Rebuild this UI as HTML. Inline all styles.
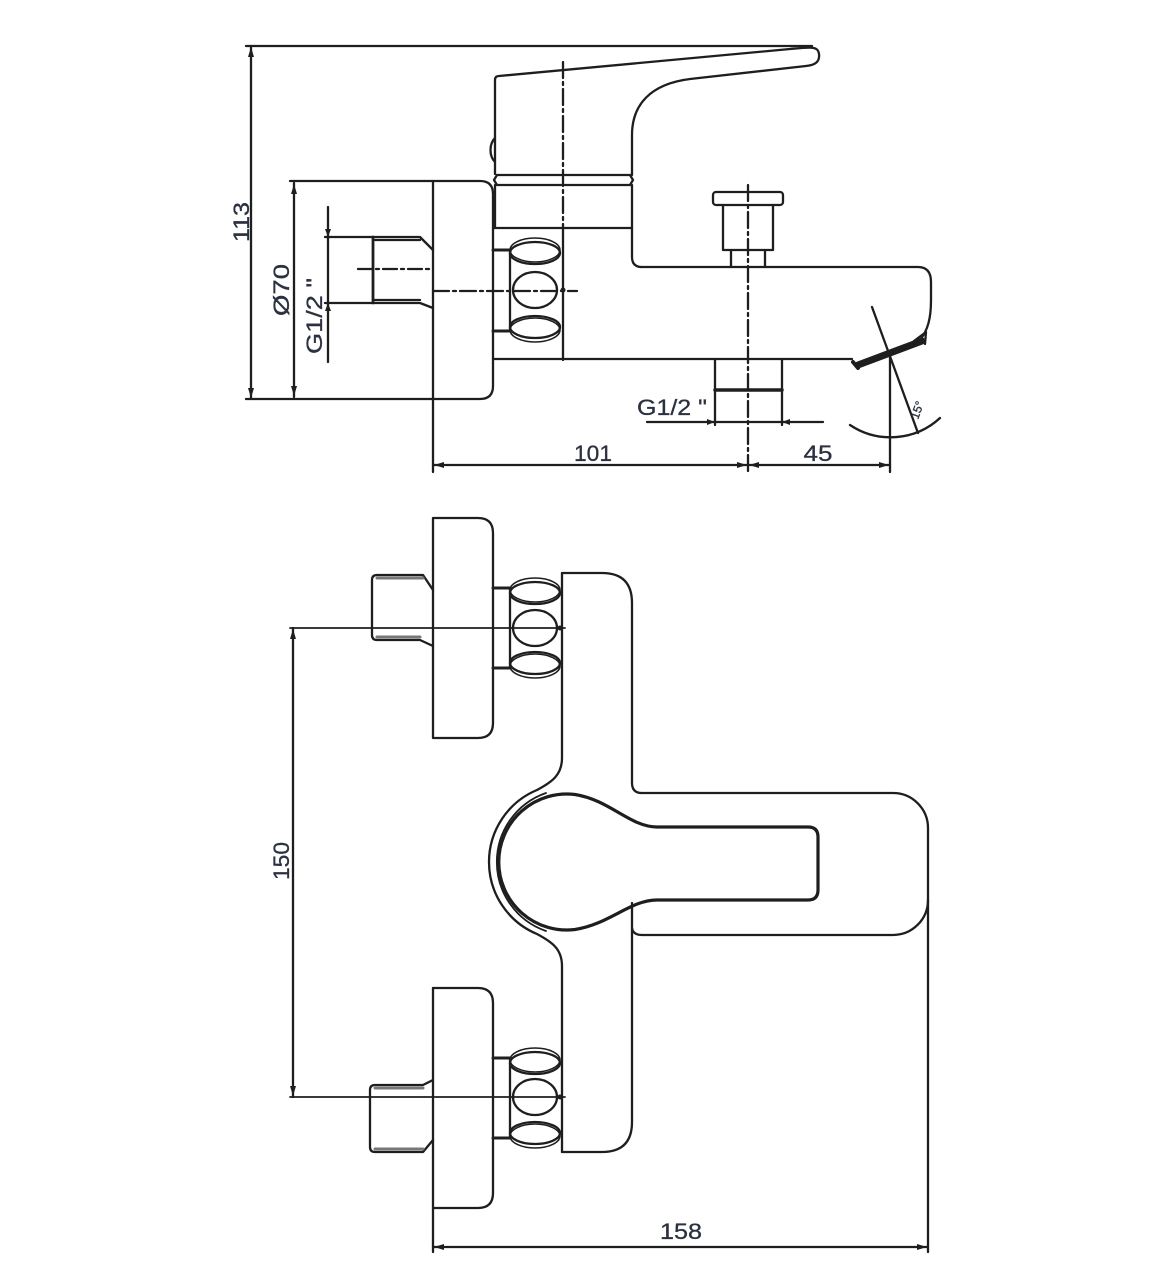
<!DOCTYPE html>
<html><head><meta charset="utf-8"><style>
html,body{margin:0;padding:0;background:#fff;}
svg{display:block;}
text{font-family:"Liberation Sans",Arial,sans-serif;fill:#2b3140;stroke:#2b3140;stroke-width:0.3;}
</style></head><body>
<svg width="1175" height="1280" viewBox="0 0 1175 1280" xmlns="http://www.w3.org/2000/svg">
<g fill="none" stroke="#1e1e1e" stroke-width="2.3" stroke-linecap="round" stroke-linejoin="round">
<!-- ============ TOP VIEW ============ -->
<line x1="246" y1="46" x2="812" y2="46"/>
<line x1="251" y1="46" x2="251" y2="399"/>
<path d="M290 181 H480 Q493 181 493 194 V386 Q493 399 480 399 H246"/>
<line x1="433" y1="181" x2="433" y2="472"/>
<line x1="294" y1="183" x2="294" y2="397"/>
<line x1="328" y1="207" x2="328" y2="362"/>
<!-- stub -->
<path d="M325 237 H420 L433 250"/>
<line x1="373" y1="240" x2="420" y2="240"/>
<path d="M325 303 H420 L433 308"/>
<line x1="373" y1="300" x2="420" y2="300"/>
<line x1="373" y1="237" x2="373" y2="303" stroke-width="2.8"/>
<line x1="358" y1="269" x2="433" y2="269" stroke-dasharray="14 4 3 4"/>
<line x1="433" y1="291" x2="577" y2="291" stroke-dasharray="16 4 3 4"/>
<!-- handle lever -->
<path d="M495 174 V80 Q495 76 499 76 L790 49 C812 47 818 46 819 54 C820 62 815 65 806 66 L690 79 C650 84 632 105 632 135 V175"/>
<path d="M495 138 C489 144 489 156 495 162"/>
<!-- ring -->
<path d="M497 175 H630 M497 185 H630 M497 175 L494 180 L497 185 M630 175 L633 180 L630 185"/>
<line x1="495" y1="185" x2="495" y2="228"/>
<path d="M632 185 V257 Q632 267 642 267 H918 Q931 267 931 282 V300 C931 318 928 330 920 340"/>
<line x1="493" y1="228" x2="632" y2="228"/>
<line x1="563" y1="62" x2="563" y2="228" stroke-dasharray="16 4 3 4"/>
<line x1="563" y1="228" x2="563" y2="360"/>
<!-- connector -->
<line x1="493" y1="250" x2="510" y2="250" stroke-width="3"/>
<line x1="493" y1="331" x2="510" y2="331" stroke-width="3"/>
<line x1="510" y1="250" x2="510" y2="331"/>
<ellipse cx="535" cy="253" rx="25" ry="11"/>
<ellipse cx="535" cy="250" rx="25" ry="12" stroke-width="1.5"/>
<ellipse cx="535" cy="290" rx="22" ry="18"/>
<ellipse cx="535" cy="327" rx="25" ry="11"/>
<ellipse cx="535" cy="330" rx="25" ry="12" stroke-width="1.5"/>
<line x1="493" y1="359" x2="852" y2="359"/>
<!-- diverter knob -->
<rect x="713" y="192" width="70" height="13" rx="3"/>
<path d="M723 205 V250 H773 V205"/>
<path d="M731 250 V267 M765 250 V267"/>
<line x1="748" y1="185" x2="748" y2="472" stroke-dasharray="16 4 3 4"/>
<!-- outlet -->
<path d="M715 359 V425 M782 359 V425"/>
<line x1="715" y1="390" x2="782" y2="390" stroke-width="3.5"/>
<line x1="647" y1="422" x2="823" y2="422"/>
<!-- aerator -->
<line x1="858" y1="365" x2="922" y2="341" stroke-width="7"/>
<line x1="853" y1="362" x2="858" y2="368" stroke-width="4"/>
<path d="M914 341 L926 332 L925 344"/>
<!-- angle -->
<line x1="872" y1="307" x2="918" y2="433"/>
<line x1="890" y1="355" x2="890" y2="472"/>
<path d="M850 425 A73 73 0 0 0 940 418"/>
<line x1="433" y1="465" x2="890" y2="465"/>

<!-- ============ FRONT VIEW ============ -->
<path d="M433 518 H478 Q493 518 493 533 V723 Q493 738 478 738 H433 Z"/>
<path d="M433 590 L423 575 H377 Q372 575 372 580 V635 Q372 640 377 640 H420 L433 646"/>
<line x1="377" y1="578" x2="423" y2="578" stroke="#777" stroke-width="3"/>
<line x1="377" y1="637" x2="420" y2="637" stroke="#777" stroke-width="3"/>
<line x1="290" y1="628" x2="565" y2="628" stroke-width="1.8"/>
<line x1="493" y1="588" x2="510" y2="588" stroke-width="3"/>
<line x1="493" y1="668" x2="510" y2="668" stroke-width="3"/>
<line x1="510" y1="588" x2="510" y2="668"/>
<ellipse cx="535" cy="593" rx="25" ry="11"/>
<ellipse cx="535" cy="590" rx="25" ry="12" stroke-width="1.5"/>
<ellipse cx="535" cy="628" rx="22" ry="18"/>
<ellipse cx="535" cy="663" rx="25" ry="11"/>
<ellipse cx="535" cy="666" rx="25" ry="12" stroke-width="1.5"/>
<!-- body -->
<path d="M562 573 V758 C562 775 552 782 537 790 A78 78 0 0 0 537 934 C552 942 562 949 562 966 V1152"/>
<path d="M546 793 A73 73 0 0 0 546 931" stroke-width="1.8"/>
<path d="M562 573 H602 Q632 573 632 603 V783 Q632 793 642 793 H893 A35 35 0 0 1 928 828 V1252"/>
<path d="M928 900 A35 35 0 0 1 893 935 H642 Q633 935 632 928"/>
<path d="M632 903 V1122 Q632 1152 602 1152 H562"/>
<!-- lever -->
<path d="M657 827 H808 Q818 827 818 837 V890 Q818 900 808 900 H657 C630 900 610 924 575 929.5 A68 68 0 1 1 575 794.5 C610 800 630 827 657 827 Z" stroke-width="3.2"/>
<!-- lower flange -->
<path d="M433 988 H478 Q493 988 493 1003 V1193 Q493 1208 478 1208 H433"/>
<line x1="433" y1="988" x2="433" y2="1252"/>
<path d="M433 1080 L423 1085 H375 Q370 1085 370 1090 V1147 Q370 1152 375 1152 H423 L433 1140"/>
<line x1="375" y1="1088" x2="423" y2="1088" stroke="#777" stroke-width="3"/>
<line x1="375" y1="1149" x2="423" y2="1149" stroke="#777" stroke-width="3"/>
<line x1="290" y1="1097" x2="565" y2="1097" stroke-width="1.8"/>
<line x1="493" y1="1058" x2="510" y2="1058" stroke-width="3"/>
<line x1="493" y1="1138" x2="510" y2="1138" stroke-width="3"/>
<line x1="510" y1="1058" x2="510" y2="1138"/>
<ellipse cx="535" cy="1063" rx="25" ry="11"/>
<ellipse cx="535" cy="1060" rx="25" ry="12" stroke-width="1.5"/>
<ellipse cx="535" cy="1097" rx="22" ry="18"/>
<ellipse cx="535" cy="1133" rx="25" ry="11"/>
<ellipse cx="535" cy="1136" rx="25" ry="12" stroke-width="1.5"/>
<line x1="293" y1="628" x2="293" y2="1097"/>
<line x1="433" y1="1247" x2="928" y2="1247"/>
</g>
<g fill="#1e1e1e" stroke="none">
<polygon points="251,47 248,57 254,57"/>
<polygon points="251,398 248,388 254,388"/>
<polygon points="294,184 291,194 297,194"/>
<polygon points="294,396 291,386 297,386"/>
<polygon points="328,237 325,229 331,229"/>
<polygon points="328,303 325,311 331,311"/>
<polygon points="434,465 444,462 444,468"/>
<polygon points="747,465 737,462 737,468"/>
<polygon points="749,465 759,462 759,468"/>
<polygon points="889,465 879,462 879,468"/>
<polygon points="715,422 707,419 707,425"/>
<polygon points="782,422 790,419 790,425"/>
<polygon points="293,629 290,639 296,639"/>
<polygon points="293,1096 290,1086 296,1086"/>
<polygon points="434,1247 444,1244 444,1250"/>
<polygon points="927,1247 917,1244 917,1250"/>
<circle cx="563" cy="290" r="2.5"/>
<circle cx="560" cy="628" r="2.5"/>
<circle cx="560" cy="1097" r="2.5"/>
</g>
<g font-size="22">
<text transform="translate(241,222) rotate(-90)" text-anchor="middle" dy="0.36em" textLength="40" lengthAdjust="spacingAndGlyphs">113</text>
<text transform="translate(281,290) rotate(-90)" text-anchor="middle" dy="0.36em" textLength="52" lengthAdjust="spacingAndGlyphs">Ø70</text>
<text transform="translate(314,316) rotate(-90)" text-anchor="middle" dy="0.36em" textLength="76" lengthAdjust="spacingAndGlyphs">G1/2 "</text>
<text x="637" y="415" textLength="70" lengthAdjust="spacingAndGlyphs">G1/2 "</text>
<text x="593" y="461" text-anchor="middle" textLength="38" lengthAdjust="spacingAndGlyphs">101</text>
<text x="818" y="461" text-anchor="middle" textLength="29" lengthAdjust="spacingAndGlyphs">45</text>
<text transform="translate(281,861) rotate(-90)" text-anchor="middle" dy="0.36em" textLength="38" lengthAdjust="spacingAndGlyphs">150</text>
<text x="681" y="1239" text-anchor="middle" textLength="42" lengthAdjust="spacingAndGlyphs">158</text>
<text transform="translate(917,410) rotate(-70)" text-anchor="middle" dy="0.36em" font-size="12" stroke-width="0">15°</text>
</g>
</svg>
</body></html>
